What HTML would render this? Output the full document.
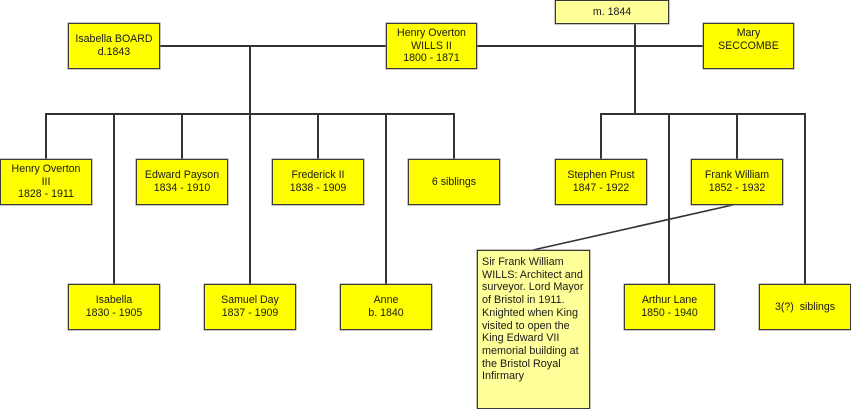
<!DOCTYPE html>
<html><head><meta charset="utf-8"><style>
html,body{margin:0;padding:0;background:#fff;}
body{width:851px;height:409px;position:relative;overflow:hidden;font-family:"Liberation Sans",Arial,sans-serif;}
svg{position:absolute;left:0;top:0;}
.b{position:absolute;box-sizing:border-box;background:#ffff00;border:1px solid #3a3a3a;box-shadow:0 0 0 0.5px #888;display:flex;align-items:center;justify-content:center;text-align:center;font-size:10.6px;line-height:12.7px;color:#1a1a1a;white-space:nowrap;}
.l{background:#ffff99;}
.n{position:absolute;box-sizing:border-box;background:#ffff99;border:1px solid #3a3a3a;box-shadow:0 0 0 0.5px #888;font-size:10.8px;line-height:12.7px;color:#1a1a1a;padding:5px 0 0 4px;white-space:nowrap;}
</style></head><body>
<svg width="851" height="409" viewBox="0 0 851 409">
<g stroke="#333" stroke-width="2" fill="none">
<line x1="159" y1="46" x2="386" y2="46"/>
<line x1="476" y1="46" x2="703" y2="46"/>
<line x1="250" y1="46" x2="250" y2="114"/>
<line x1="635" y1="23" x2="635" y2="114"/>
<line x1="45" y1="114" x2="455" y2="114"/>
<line x1="600" y1="114" x2="806" y2="114"/>
<line x1="46" y1="113" x2="46" y2="159"/>
<line x1="182" y1="113" x2="182" y2="159"/>
<line x1="318" y1="113" x2="318" y2="159"/>
<line x1="454" y1="113" x2="454" y2="159"/>
<line x1="601" y1="113" x2="601" y2="159"/>
<line x1="737" y1="113" x2="737" y2="159"/>
<line x1="114" y1="113" x2="114" y2="284"/>
<line x1="250" y1="113" x2="250" y2="284"/>
<line x1="386" y1="113" x2="386" y2="284"/>
<line x1="669" y1="113" x2="669" y2="284"/>
<line x1="805" y1="113" x2="805" y2="284"/>
<line x1="737" y1="204" x2="533" y2="250" stroke-width="1.6"/>
</g>
</svg>
<div class="b" style="left:68px;top:23px;width:92px;height:46px;">Isabella BOARD<br>d.1843</div>
<div class="b" style="left:386px;top:23px;width:91px;height:46px;">Henry Overton<br>WILLS II<br>1800 - 1871</div>
<div class="b l" style="left:555px;top:0px;width:114px;height:24px;">m. 1844</div>
<div class="b" style="left:703px;top:23px;width:91px;height:46px;">Mary<br>SECCOMBE<br>&nbsp;</div>
<div class="b" style="left:0px;top:159px;width:92px;height:46px;">Henry Overton<br>III<br>1828 - 1911</div>
<div class="b" style="left:136px;top:159px;width:92px;height:46px;">Edward Payson<br>1834 - 1910</div>
<div class="b" style="left:272px;top:159px;width:92px;height:46px;">Frederick II<br>1838 - 1909</div>
<div class="b" style="left:408px;top:159px;width:92px;height:46px;">6 siblings</div>
<div class="b" style="left:555px;top:159px;width:92px;height:46px;">Stephen Prust<br>1847 - 1922</div>
<div class="b" style="left:691px;top:159px;width:92px;height:46px;">Frank William<br>1852 - 1932</div>
<div class="b" style="left:68px;top:284px;width:92px;height:46px;">Isabella<br>1830 - 1905</div>
<div class="b" style="left:204px;top:284px;width:92px;height:46px;">Samuel Day<br>1837 - 1909</div>
<div class="b" style="left:340px;top:284px;width:92px;height:46px;">Anne<br>b. 1840</div>
<div class="b" style="left:624px;top:284px;width:91px;height:46px;">Arthur Lane<br>1850 - 1940</div>
<div class="b" style="left:759px;top:284px;width:92px;height:46px;">3(?)&nbsp; siblings</div>
<div class="n" style="left:477px;top:250px;width:113px;height:159px;">Sir Frank William<br>WILLS: Architect and<br>surveyor. Lord Mayor<br>of Bristol in 1911.<br>Knighted when King<br>visited to open the<br>King Edward VII<br>memorial building at<br>the Bristol Royal<br>Infirmary</div>
</body></html>
